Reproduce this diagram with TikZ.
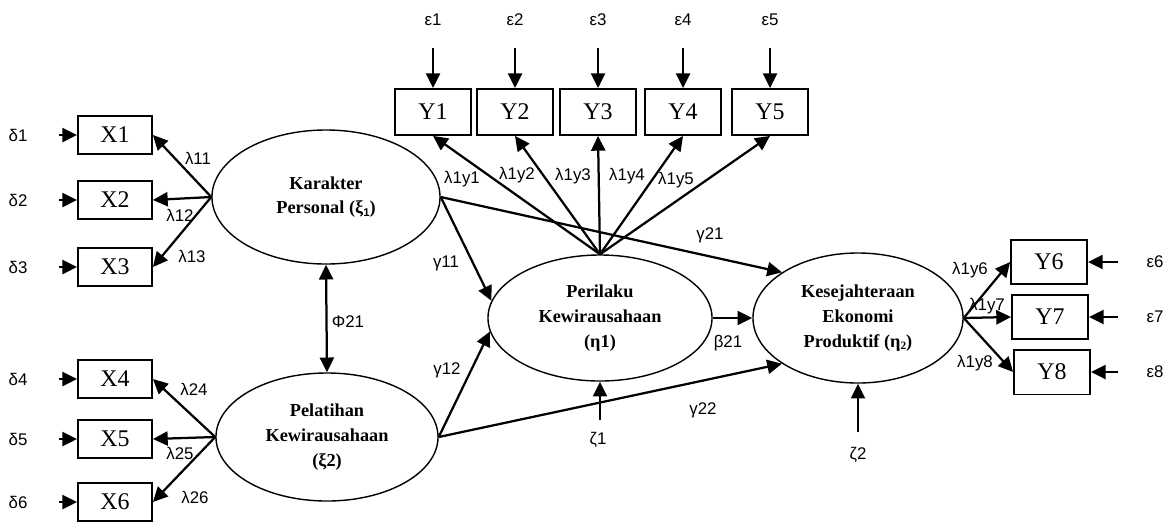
\documentclass[tikz,border=0pt]{standalone}
\usepackage{fontspec}
\setmainfont{Liberation Serif}
\newfontfamily\lblfont{Liberation Sans}
\usetikzlibrary{shapes.geometric, arrows.meta}

\begin{document}
\begin{tikzpicture}[x=0.025cm,y=-0.025cm,
  latent/.style={draw,ellipse,line width=1pt,inner sep=0pt,align=center,
    font=\fontsize{13}{17.5}\selectfont\bfseries},
  obs/.style={draw,line width=1.3pt,inner sep=0pt,minimum width=1.85cm,
    minimum height=0.95cm,font=\fontsize{17}{19}\selectfont},
  obsy/.style={obs,minimum width=1.9cm,minimum height=1.15cm},
  lbl/.style={font=\lblfont\fontsize{12}{14}\selectfont,inner sep=1pt},
  arr/.style={line width=1.6pt,-{Triangle[length=10.5pt,width=10pt]}},
  dbl/.style={line width=1.6pt,{Triangle[length=10.5pt,width=10pt]}-{Triangle[length=10.5pt,width=10pt]}}]

\useasboundingbox (0,0) rectangle (1169,521);

% latent variables
\node[latent,minimum width=5.7cm,minimum height=3.35cm] (kar) at (326,197)
  {Karakter\\Personal (ξ\raisebox{-0.3ex}{\lblfont\footnotesize\bfseries 1})};
\node[latent,minimum width=5.55cm,minimum height=3.2cm] (pel) at (327,437)
  {Pelatihan\\Kewirausahaan\\(ξ2)};
\node[latent,minimum width=5.6cm,minimum height=3.15cm] (per) at (600,318)
  {Perilaku\\Kewirausahaan\\(η1)};
\node[latent,minimum width=5.25cm,minimum height=3.25cm] (kes) at (858,318)
  {Kesejahteraan\\Ekonomi\\Produktif (η\raisebox{-0.3ex}{\footnotesize\bfseries 2})};

% indicators of xi
\foreach \i/\y in {1/135,2/200,3/267,4/379,5/439,6/502} {
  \node[obs] (x\i) at (115,\y) {X\i};
  \node[lbl] (d\i) at (18,\y) {δ\i};
  \coordinate (dd\i) at (59,\y);
  \draw[arr] (dd\i) -- (x\i);
}
\foreach \i in {1,2,3} \draw[arr] (kar.west) -- (x\i.east);
\foreach \i in {4,5,6} \draw[arr] (pel.west) -- (x\i.east);

\node[lbl] (l11) at (198,158) {λ11};
\node[lbl] (l12) at (180,215) {λ12};
\node[lbl] (l13) at (192,256) {λ13};
\node[lbl] (l24) at (194,389) {λ24};
\node[lbl] (l25) at (180,453) {λ25};
\node[lbl] (l26) at (195,497) {λ26};

% indicators of eta1
\foreach \i/\x in {1/433,2/515,3/598,4/683,5/770} {
  \node[obsy] (y\i) at (\x,112) {Y\i};
  \node[lbl] (e\i) at (\x,20) {ε\i};
  \coordinate (ee\i) at (\x,48);
  \draw[arr] (ee\i) -- (y\i);
  \draw[arr] (per.north) -- (y\i.south);
}
\node[lbl] (ly1) at (462,179) {λ1y1};
\node[lbl] (ly2) at (517,175) {λ1y2};
\node[lbl] (ly3) at (573,176) {λ1y3};
\node[lbl] (ly4) at (627,176) {λ1y4};
\node[lbl] (ly5) at (676,180) {λ1y5};

% indicators of eta2
\foreach \i/\x/\y in {6/1049/262,7/1050/317,8/1052/372} {
  \node[obs,minimum width=1.9cm,minimum height=1.12cm] (y\i) at (\x,\y) {Y\i};
  \node[lbl] (e\i) at (1155,\y) {ε\i};
  \coordinate (ee\i) at (1118,\y);
  \draw[arr] (ee\i) -- (y\i);
  \draw[arr] (kes.east) -- (y\i.west);
}
\node[lbl] (ly6) at (970,270) {λ1y6};
\node[lbl] (ly7) at (987,306) {λ1y7};
\node[lbl] (ly8) at (975,363) {λ1y8};

% structural paths
\draw[dbl] (kar.south) -- (pel.north);
\node[lbl] (phi) at (348,322) {Φ21};

\draw[arr] (kar.east) -- (per.171);
\draw[arr] (pel.east) -- (per.187);
\draw[arr] (kar.east) -- (kes.149);
\draw[arr] (pel.east) -- (kes.211);
\draw[arr] (per.east) -- (kes.west);

\node[lbl] (g11) at (446,263) {γ11};
\node[lbl] (g12) at (447,370) {γ12};
\node[lbl] (g21) at (710,235) {γ21};
\node[lbl] (g22) at (703,410) {γ22};
\node[lbl] (b21) at (728,343) {β21};

% disturbances
\coordinate (z1s) at (600,420);
\coordinate (z2s) at (858,432);
\draw[arr] (z1s) -- (per.south);
\draw[arr] (z2s) -- (kes.south);
\node[lbl] (z1) at (598,440) {ζ1};
\node[lbl] (z2) at (858,455) {ζ2};

\end{tikzpicture}
\end{document}
